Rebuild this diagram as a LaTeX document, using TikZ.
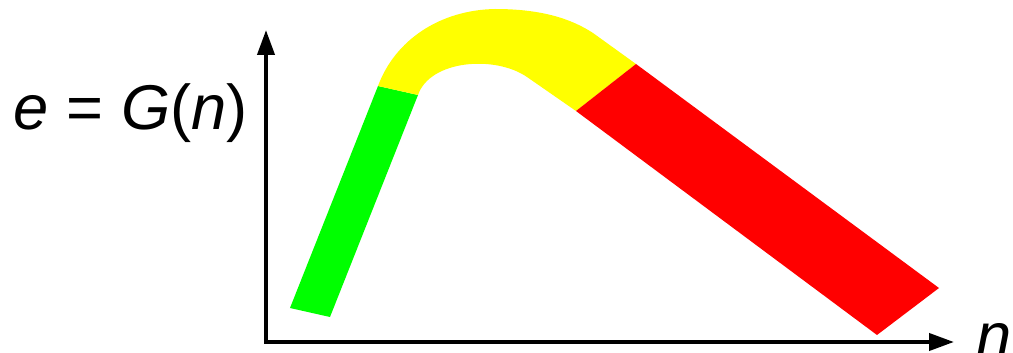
\documentclass[tikz,border=0pt]{standalone}
\usepackage{fontspec}
\setmainfont{Liberation Sans}
\usepackage{tikz}
\usetikzlibrary{arrows.meta, positioning}
\definecolor{bandgreen}{RGB}{0,255,0}
\definecolor{bandyellow}{RGB}{255,255,0}
\definecolor{bandred}{RGB}{255,0,0}

\begin{document}
\begin{tikzpicture}[scale=1.0,
    axis/.style={line width=2.3pt, {Triangle[length=5mm, width=3.4mm]}-{Triangle[length=5mm, width=3.4mm]}},
    band/.style={draw=none},
    lbl/.style={font=\fontsize{36}{43}\selectfont, inner sep=0pt}]
  \useasboundingbox (-5.32,-0.2) rectangle (14.94,6.84);

  % coloured bands
  \fill[band, bandgreen] (0.48,0.68) -- (1.28,0.50) -- (3.04,4.94) -- (2.24,5.12) -- cycle;
  \fill[band, bandyellow] (2.24,5.12) .. controls (2.58,6.04) and (3.48,6.64) .. (4.58,6.66)
    .. controls (5.48,6.66) and (6.08,6.48) .. (6.54,6.18) -- (7.40,5.56)
    -- (6.20,4.62) -- (5.22,5.30) .. controls (4.58,5.74) and (3.28,5.64) .. (3.04,4.94) -- cycle;
  \fill[band, bandred] (6.20,4.62) -- (7.40,5.56) -- (13.46,1.08) -- (12.22,0.14) -- cycle;

  % axes
  \coordinate (O) at (0,0);
  \coordinate (ytip) at (0,6.24);
  \coordinate (xtip) at (13.76,0);
  \draw[axis] (ytip) -- (O) -- (xtip);

  \node[lbl, anchor=base east] (ylabel) at (-0.36,4.24) {\textit{e} = \textit{G}(\textit{n})};
  \node[lbl, anchor=base west] (xlabel) at (14.2,-0.3) {\textit{n}};
\end{tikzpicture}
\end{document}
